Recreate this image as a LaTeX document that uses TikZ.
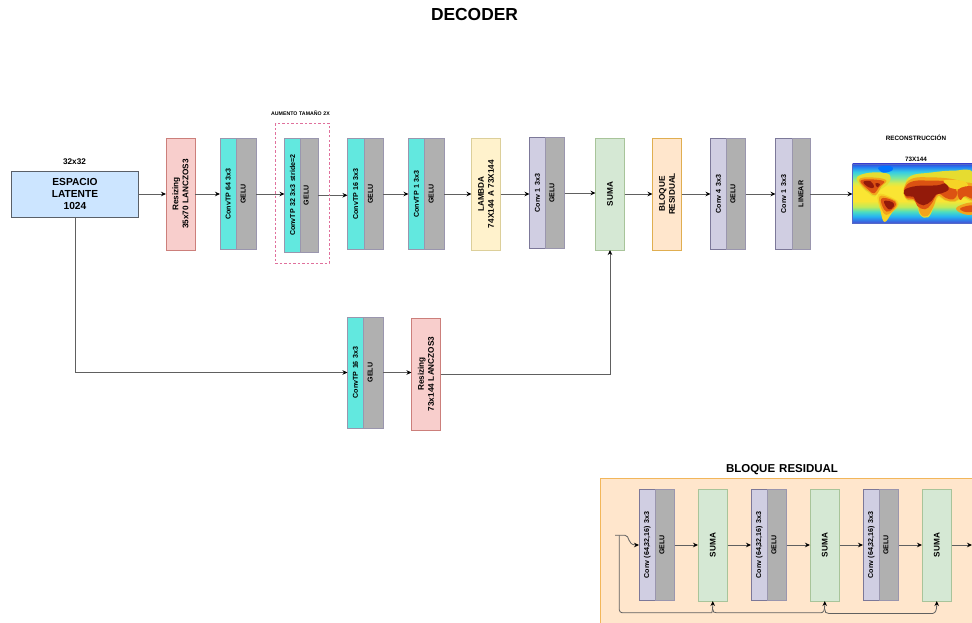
\documentclass[tikz,border=0pt]{standalone}
\usepackage{fontspec}
\setmainfont[WordSpace=1.25]{Liberation Sans}
\usetikzlibrary{arrows.meta,calc}
\definecolor{cy}{HTML}{62E8DF}
\definecolor{gry}{HTML}{B0B0B0}
\definecolor{lil}{HTML}{D0CEE2}
\definecolor{lild}{HTML}{7C7899}
\definecolor{cyd}{HTML}{9A96AE}
\definecolor{rdf}{HTML}{F8CECC}
\definecolor{rdd}{HTML}{CC7F7B}
\definecolor{yef}{HTML}{FFF2CC}
\definecolor{yed}{HTML}{DCCF9A}
\definecolor{grf}{HTML}{D5E8D4}
\definecolor{grd}{HTML}{A8C49A}
\definecolor{orf}{HTML}{FFE6CC}
\definecolor{ord}{HTML}{E0AE50}
\definecolor{blf}{HTML}{CCE5FF}
\definecolor{bld}{HTML}{5A6068}
\definecolor{pan}{HTML}{F2B65A}
\definecolor{pinkd}{HTML}{E0709C}
\definecolor{ln}{HTML}{606060}
\definecolor{mland}{HTML}{E6DC30}
\definecolor{mor}{HTML}{F2A41C}
\definecolor{mred}{HTML}{DC5212}
\definecolor{mdark}{HTML}{931A0A}
\definecolor{myel}{HTML}{F6D426}
\definecolor{mbord}{HTML}{5468C8}
\pgfdeclareverticalshading{mapbands}{100bp}{%
rgb(0bp)=(0.30,0.30,0.80);
rgb(25bp)=(0.30,0.30,0.80);
rgb(27.5bp)=(0.20,0.45,0.90);
rgb(31bp)=(0.15,0.70,0.95);
rgb(35bp)=(0.30,0.87,0.75);
rgb(39bp)=(0.75,0.92,0.35);
rgb(44bp)=(0.98,0.90,0.20);
rgb(56bp)=(0.98,0.90,0.20);
rgb(59bp)=(0.85,0.92,0.30);
rgb(64bp)=(0.45,0.90,0.65);
rgb(68.5bp)=(0.20,0.80,0.90);
rgb(72.5bp)=(0.15,0.50,0.95);
rgb(75bp)=(0.20,0.30,0.85);
rgb(100bp)=(0.20,0.30,0.85)}
\tikzset{
  x=1pt,y=-1pt,
  box/.style={draw,rectangle,inner sep=0pt,outer sep=0pt,line width=.8pt},
  lbl/.style={rotate=90,align=center,inner sep=0pt,text=black},
  tiny/.style={font=\bfseries\fontsize{7.1}{8.4}\selectfont},
  cypart/.style={fill=cy,draw=cyd},
  lilpart/.style={fill=lil,draw=lild},
  graypart/.style={fill=gry},
  redbox/.style={fill=rdf,draw=rdd},
  yelbox/.style={fill=yef,draw=yed},
  grnbox/.style={fill=grf,draw=grd},
  orgbox/.style={fill=orf,draw=ord},
  cap/.style={inner sep=0pt,font=\bfseries\fontsize{#1}{#1}\selectfont},
  arr/.style={draw=ln,line width=.8pt,-{Stealth[length=5pt,width=4.5pt,color=black]}},
  groupline/.style={draw=pinkd,dash pattern=on 2.5pt off 2pt,line width=.9pt},
}
\def\tx{3}
% [style]{name}{x0}{split}{x1}{y0}{y1}{left text}{right text}
\newcommand\dbl[9][]{%
  \node[box,#1,minimum width={(#4-#3)*1pt},minimum height={(#7-#6)*1pt},
        label={[lbl,tiny]center:{#8}}] (#2a) at ({(#3+#4)/2},{(#6+#7)/2}) {};
  \node[box,graypart,draw=cyd,minimum width={(#5-#4)*1pt},minimum height={(#7-#6)*1pt},
        label={[lbl,tiny,yshift=\tx pt]center:{#9}}] (#2b) at ({(#4+#5)/2},{(#6+#7)/2}) {};
}
% [style]{name}{x0}{x1}{y0}{y1}{text}
\newcommand\sgl[7][]{%
  \node[box,#1,minimum width={(#4-#3)*1pt},minimum height={(#6-#5)*1pt},
        label={[lbl,font=\bfseries\fontsize{8.2}{10}\selectfont]center:{#7}}] (#2) at ({(#3+#4)/2},{(#5+#6)/2}) {};
}
\newcommand\conn[2]{\draw[arr] (#1.east) -- (#1.east -| #2.west);}
\newcommand\fbin[1]{.. controls ([shift={(-1pt,-11.8pt)}]#1.south) and ([yshift=-9pt]#1.south) .. (#1.south)}
\newcommand\blob[2]{\fill[#1] plot[smooth cycle,tension=.7] coordinates {#2};}
\begin{document}
\begin{tikzpicture}
\useasboundingbox (0,0) rectangle (972,623);
\node[cap=17.4] (title) at (474.5,15) {DECODER};
\node[cap=5.2] (grpt) at (300.5,113) {AUMENTO TAMAÑO 2X};

% top row
\node[box,fill=blf,draw=bld,minimum width=127pt,minimum height=46pt,align=center,
      font=\bfseries\fontsize{10.2}{12.4}\selectfont] (lat) at (75,194) {ESPACIO\\LATENTE\\1024};
\node[cap=8.2] (latt) at (74.5,162) {32x32};
\sgl[redbox]{rs1}{166}{195}{138}{250}{Resizing\\35x70 LANCZOS3}
\dbl[cypart]{c64}{220}{236.5}{256}{138.5}{249.5}{ConvTP 64 3x3}{GELU}
\dbl[cypart]{c32}{284.5}{300.5}{318}{138.5}{252}{ConvTP 32 3x3 stride=2}{GELU}
\dbl[cypart]{c16}{347.5}{364}{383}{138.5}{249.5}{ConvTP 16 3x3}{GELU}
\dbl[cypart]{c1}{408.5}{424.5}{444}{138.5}{249.5}{ConvTP 1 3x3}{GELU}
\sgl[yelbox]{lam}{471.5}{500.5}{138}{250}{LAMBDA\\74X144 A 73X144}
\dbl[lilpart]{k1}{529.5}{545.5}{564.5}{137.5}{248.5}{Conv 1 3x3}{GELU}
\sgl[grnbox]{su}{595.5}{624.5}{138}{250}{SUMA}
\sgl[orgbox]{blo}{652.5}{681.5}{138}{250}{BLOQUE\\RESIDUAL}
\dbl[lilpart]{k4}{710.5}{726.5}{745.5}{138.5}{249.5}{Conv 4 3x3}{GELU}
\def\tx{0}
\dbl[lilpart]{k0}{775.5}{792}{810}{138.5}{249.5}{Conv 1 3x3}{LINEAR}
\def\tx{3}

% reconstruction map (drawn shapes)
\node[cap=6.3] (rect) at (916,138) {RECONSTRUCCIÓN};
\node[cap=6.3] (rdim) at (916,159) {73X144};
\begin{scope}
\clip (852.5,164) rectangle (972,223.5);
\shade[shading=mapbands] (852.5,164) rectangle (972,223.5);
\begin{scope}[xshift=850pt,yshift=-130pt,x=.3333pt,y=-.3333pt]
% Americas
\blob{mland}{(22,140)(60,128)(110,130)(122,146)(110,166)(90,180)(74,200)(56,190)(38,174)(24,156)}
\blob{mor}{(28,148)(60,142)(108,150)(94,170)(76,196)(58,186)(40,172)}
\blob{mred}{(32,152)(60,148)(102,154)(88,170)(72,190)(56,180)(42,168)}
\blob{mdark}{(40,156)(62,154)(72,172)(56,172)}
\blob{mdark}{(76,160)(90,162)(82,172)}
\blob{myel}{(84,194)(124,202)(146,222)(126,248)(104,276)(92,245)}
\blob{mor}{(88,200)(124,206)(142,223)(120,250)(100,248)}
\blob{mred}{(94,206)(126,210)(138,224)(118,244)(102,238)}
\blob{mdark}{(102,214)(126,216)(132,228)(116,238)}
% Greenland
\blob{blue!55!cyan}{(85,112)(120,108)(128,120)(100,128)}
% Afro-Eurasia
\blob{mland}{(165,170)(182,138)(240,128)(310,122)(370,128)(370,210)(340,204)(315,216)(285,212)(264,202)(252,230)(234,262)(210,254)(198,218)(170,210)}
\blob{mor}{(162,174)(186,146)(240,142)(300,146)(340,156)(370,165)(370,210)(340,200)(315,214)(285,210)(264,198)(250,230)(232,258)(212,252)(198,215)(168,206)}
\blob{mred}{(163,176)(188,154)(240,152)(290,155)(310,170)(322,190)(310,208)(288,204)(264,192)(244,222)(225,238)(202,228)(192,208)(168,202)}
\blob{myel}{(285,150)(345,155)(348,176)(310,176)(290,165)}
\blob{mred}{(325,178)(370,170)(370,205)(345,198)(330,210)}
\blob{mdark}{(163,180)(200,168)(262,166)(285,160)(296,178)(275,190)(258,194)(245,212)(220,226)(198,214)(190,200)(168,198)}
% Australia
\blob{mor}{(320,232)(370,218)(370,252)(335,250)}
\blob{mred}{(332,234)(370,226)(370,244)(342,245)}
\end{scope}
\end{scope}
\node[draw=mbord,line width=.7pt,inner sep=0,outer sep=0,minimum width=119.5pt,minimum height=59.5pt] (map) at (912.25,193.75) {};

% bottom row
\dbl[cypart]{lc}{347.5}{363.5}{383}{317}{428}{ConvTP 16 3x3}{GELU}
\sgl[redbox]{rs2}{411.5}{440.5}{318}{430}{Resizing\\73x144 LANCZOS3}

% connectors
\conn{lat}{rs1}
\conn{rs1}{c64a}
\conn{c64b}{c32a}
\conn{c32b}{c16a}
\conn{c16b}{c1a}
\conn{c1b}{lam}
\conn{lam}{k1a}
\conn{k1b}{su}
\conn{su}{blo}
\conn{blo}{k4a}
\conn{k4b}{k0a}
\conn{k0b}{map}
\draw[arr] (lat.south) |- (lca.west);
\conn{lcb}{rs2}
\draw[arr] (rs2.east) -| (su.south);

% dashed group, over the row
\coordinate (grp1) at (275.5,123.5);
\coordinate (grp2) at (329,263.5);
\draw[groupline] (grp1) rectangle (grp2);

% residual panel
\node[cap=11.5] (pant) at (782,470) {BLOQUE RESIDUAL};
\node[draw=pan,fill=orf,line width=.8pt,inner sep=0,outer sep=0,minimum width=380pt,minimum height=160pt,anchor=north west] (panel) at (600,478) {};
\dbl[lilpart]{r1}{639}{655.5}{674.5}{489.5}{600.5}{Conv (64,32,16) 3x3}{GELU}
\sgl[grnbox]{s1}{698}{727.5}{489}{601}{SUMA}
\dbl[lilpart]{r2}{751}{767.5}{786.5}{489.5}{600.5}{Conv (64,32,16) 3x3}{GELU}
\sgl[grnbox]{s2}{810}{839.5}{489}{601}{SUMA}
\dbl[lilpart]{r3}{863}{879.5}{898.5}{489.5}{600.5}{Conv (64,32,16) 3x3}{GELU}
\sgl[grnbox]{s3}{922}{951.5}{489}{601}{SUMA}
\coordinate (rin) at (615,535.3);
\coordinate (fb) at (619.3,535.3);
\coordinate (rout) at (972,545);
\draw[arr] (rin) -- (625,535.3) .. controls (630,535.3) and (627,545) .. (r1a.west);
\conn{r1b}{s1}
\conn{s1}{r2a}
\conn{r2b}{s2}
\conn{s2}{r3a}
\conn{r3b}{s3}
\draw[arr] (s3.east) -- (rout);
\draw[arr,rounded corners=3pt] (fb) |- ([shift={(-4pt,-11.8pt)}]s1.south) \fbin{s1};
\draw[arr] ([shift={(0pt,-8pt)}]s1.south) .. controls ([yshift=-11pt]s1.south) and ([shift={(1pt,-11.8pt)}]s1.south) .. ([shift={(4pt,-11.8pt)}]s1.south) -- ([shift={(-4pt,-11.8pt)}]s2.south) \fbin{s2};
\draw[arr] ([shift={(0pt,-8pt)}]s2.south) .. controls ([yshift=-11pt]s2.south) and ([shift={(1pt,-12.5pt)}]s2.south) .. ([shift={(4pt,-12.5pt)}]s2.south) -- ([shift={(-4pt,-12.5pt)}]s3.south) \fbin{s3};
\end{tikzpicture}
\end{document}
